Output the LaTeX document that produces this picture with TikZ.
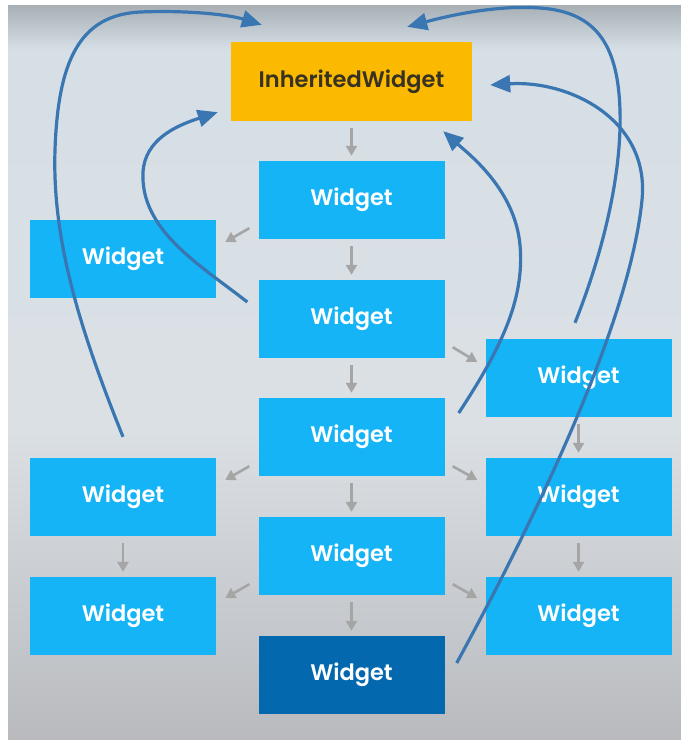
\documentclass[tikz,border=0pt]{standalone}
\usepackage{fontspec}
\setsansfont{Poppins}[BoldFont={Poppins SemiBold}]
\usepackage{tikz}
\usetikzlibrary{arrows.meta,calc}
\definecolor{bgband}{RGB}{168,176,182}
\definecolor{bgtop}{RGB}{214,223,230}
\definecolor{bgmid}{RGB}{219,224,228}
\definecolor{bgbot}{RGB}{184,186,190}
\definecolor{wblue}{RGB}{20,180,246}
\definecolor{wdark}{RGB}{4,104,174}
\definecolor{worange}{RGB}{251,186,0}
\definecolor{wtext}{RGB}{55,50,35}
\definecolor{treegray}{RGB}{165,165,165}
\definecolor{ctxblue}{RGB}{58,118,178}

\begin{document}
\begin{tikzpicture}[x=1pt, y=-1pt,
        widget/.style={rectangle, fill=wblue, text=white, minimum width=186pt, minimum height=78pt,
            font=\sffamily\bfseries\fontsize{22.5}{27}\selectfont},
        tree/.style={draw=treegray, line width=2.6pt, -{Triangle[length=10pt,width=11pt]}},
        ctx/.style={draw=ctxblue, line width=3.2pt, -{Triangle[length=20pt,width=17pt]}}]
        \useasboundingbox (0,0) rectangle (681,740);
        \fill [white] (0,0) rectangle (681,740);
        \shade [top color=bgband, bottom color=bgtop] (8,5) rectangle (681,50);
        \shade [top color=bgtop, bottom color=bgmid] (8,50) rectangle (681,430);
        \shade [top color=bgmid, bottom color=bgbot] (8,430) rectangle (681,740);

        \node [widget, fill=worange, text=wtext, minimum width=241pt, minimum height=79pt] (iw) at (351.5,81.5) {InheritedWidget};
        \node [widget] (c1) at (351.5,200) {Widget};
        \node [widget] (c2) at (351.5,319) {Widget};
        \node [widget] (c3) at (351.5,437) {Widget};
        \node [widget] (c4) at (351.5,556) {Widget};
        \node [widget, fill=wdark] (c5) at (351.5,675) {Widget};
        \node [widget] (lw1) at (123,259) {Widget};
        \node [widget] (lw2) at (123,497) {Widget};
        \node [widget] (lw3) at (123,616) {Widget};
        \node [widget] (rw1) at (578.5,378) {Widget};
        \node [widget] (rw2) at (578.5,497) {Widget};
        \node [widget] (rw3) at (578.5,616) {Widget};

        \foreach \a/\b in {iw/c1, c1/c2, c2/c3, c3/c4, c4/c5, lw2/lw3, rw1/rw2, rw2/rw3}
            \draw [tree, shorten <=7pt, shorten >=5pt] (\a) -- (\b);
        \draw [tree] ($(c1.south west)+(-9,-11)$) -- ($(lw1.east)+(9,-17)$);
        \draw [tree] ($(c2.south east)+(8,-11)$) -- ($(rw1.west)+(-8,-16)$);
        \draw [tree] ($(c3.south west)+(-9,-10)$) -- ($(lw2.east)+(9,-17)$);
        \draw [tree] ($(c3.south east)+(8,-10)$) -- ($(rw2.west)+(-8,-17)$);
        \draw [tree] ($(c4.south west)+(-9,-11)$) -- ($(lw3.east)+(9,-18)$);
        \draw [tree] ($(c4.south east)+(8,-11)$) -- ($(rw3.west)+(-8,-18)$);

        % lookups up the tree
        \draw [ctx] ($(lw2.north)+(0,-21)$) .. controls (80,330) and (52,240) .. (55,150)
            .. controls (58,60) and (80,15) .. (140,12) .. controls (190,10) and (230,15) .. ($(iw.north west)+(31,-17)$);
        \draw [ctx] ($(c2.west)+(-11,-17)$) .. controls (200,265) and (140,230) .. (143,172)
            .. controls (145,140) and (175,126) .. ($(iw.south west)+(-13,-9)$);
        \draw [ctx] ($(c3.east)+(14,-24)$) .. controls (500,350) and (525,300) .. (520,245)
            .. controls (515,190) and (470,155) .. ($(iw.south east)+(-29,10)$);
        \draw [ctx] ($(rw1.north)+(-3.5,-16)$) .. controls (600,260) and (622,180) .. (620,110)
            .. controls (618,50) and (600,12) .. (540,8) .. controls (500,5) and (455,14) .. ($(iw.north east)+(-65,-15)$);
        \draw [ctx] ($(c5.east)+(12,-12)$) .. controls (540,510) and (630,320) .. (642,200)
            .. controls (650,120) and (570,80) .. ($(iw.east)+(18,3.5)$);
    \end{tikzpicture}
\end{document}
